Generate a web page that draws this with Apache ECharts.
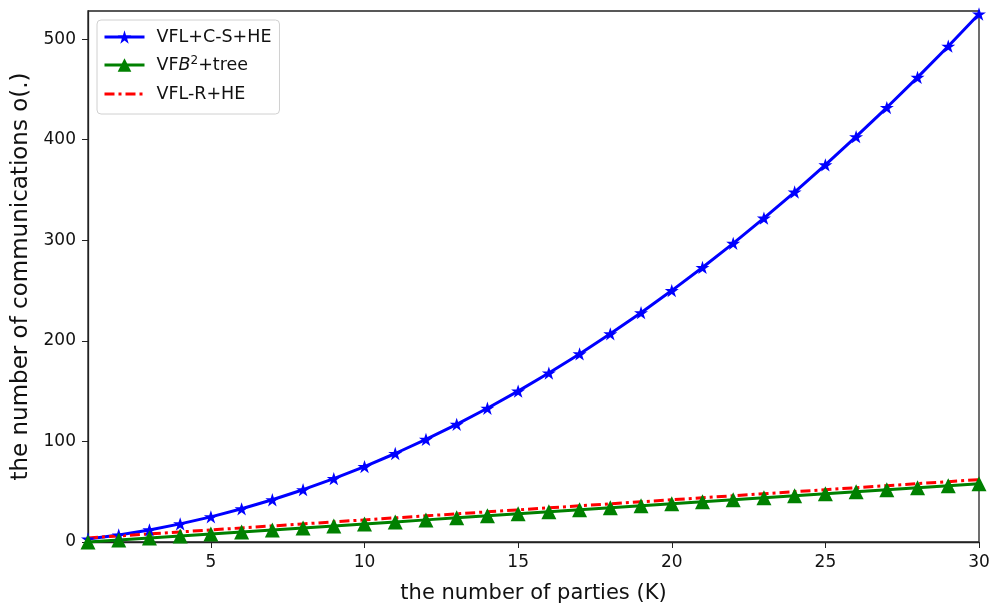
<!DOCTYPE html>
<html>
<head>
<meta charset="utf-8">
<script src="https://cdn.jsdelivr.net/npm/echarts@6/dist/echarts.min.js"></script>
<style>
  html, body { margin: 0; padding: 0; background: #fff; }
  #main { width: 1005px; height: 609px; }
</style>
</head>
<body>
<div id="main"></div>
<script>
// number of parties K
var parties = [1, 2, 3, 4, 5, 6, 7, 8, 9, 10, 11, 12, 13, 14, 15,
  16, 17, 18, 19, 20, 21, 22, 23, 24, 25, 26, 27, 28, 29, 30];
// VFL+C-S+HE
var csHE = [3, 7, 12, 18, 25, 33, 42, 52, 63, 75, 88, 102, 117, 133, 150,
  168, 187, 207, 228, 250, 273, 297, 322, 348, 375, 403, 432, 462, 493, 525];
// VFB^2+tree
var vfbTree = [0, 2, 4, 6, 8, 10, 12, 14, 16, 18, 20, 22, 24, 26, 28,
  30, 32, 34, 36, 38, 40, 42, 44, 46, 48, 50, 52, 54, 56, 58];
// VFL-R+HE
var rHE = [4, 6, 8, 10, 12, 14, 16, 18, 20, 22, 24, 26, 28, 30, 32,
  34, 36, 38, 40, 42, 44, 46, 48, 50, 52, 54, 56, 58, 60, 62];

var xTicks = [5, 10, 15, 20, 25, 30];
var yTicks = [0, 100, 200, 300, 400, 500];

function pairs(ys) {
  return parties.map(function (k, i) { return [k, ys[i]]; });
}

var star = 'path://M50,0L61.23,34.55L97.55,34.55L68.17,55.9L79.39,90.45L50,69.1L20.61,90.45L31.83,55.9L2.45,34.55L38.77,34.55Z';
var font = 'DejaVu Sans';

var myChart = echarts.init(document.getElementById('main'));
myChart.setOption({
  animation: false,
  grid: {
    left: 88, right: 26, top: 11, bottom: 65,
    show: true, borderColor: '#222', borderWidth: 1.3,
    containLabel: false
  },
  legend: {
    left: 97, top: 20,
    orient: 'vertical',
    padding: [7, 8, 10, 6],
    itemWidth: 40, itemHeight: 17, itemGap: 8,
    borderColor: '#d0d0d0', borderWidth: 1, borderRadius: 4,
    backgroundColor: 'rgba(255,255,255,0.85)',
    lineStyle: { width: 3 },
    textStyle: {
      fontFamily: font, fontSize: 17.5, color: '#111', lineHeight: 20,
      padding: [0, 0, 0, 7],
      rich: {
        i: { fontFamily: font, fontSize: 17.5, fontStyle: 'italic', color: '#111', lineHeight: 20 },
        sup: { fontFamily: font, fontSize: 12, verticalAlign: 'top', lineHeight: 20, padding: [0, 0, 9, 0], color: '#111' }
      }
    },
    formatter: function (name) {
      if (name === 'VFB2+tree') return 'VF{i|B}{sup|2}+tree';
      return name;
    },
    data: ['VFL+C-S+HE', 'VFB2+tree', { name: 'VFL-R+HE', itemStyle: { opacity: 0 } }]
  },
  xAxis: {
    type: 'value',
    min: 1, max: 30,
    name: 'the number of parties (K)',
    nameLocation: 'middle', nameGap: 41,
    nameTextStyle: { fontFamily: font, fontSize: 21, color: '#111' },
    axisLine: { show: true, lineStyle: { color: '#222', width: 1.3 } },
    axisTick: { show: true, length: 6, lineStyle: { color: '#222' },
      customValues: xTicks },
    axisLabel: { fontFamily: font, fontSize: 17, color: '#111', margin: 12,
      customValues: xTicks },
    splitLine: { show: false }
  },
  yAxis: {
    type: 'value',
    min: 0, max: 528,
    name: 'the number of communications o(.)',
    nameLocation: 'middle', nameGap: 50,
    nameTextStyle: { fontFamily: font, fontSize: 23, color: '#111' },
    axisLine: { show: true, lineStyle: { color: '#222', width: 1.3 } },
    axisTick: { show: true, length: 6, lineStyle: { color: '#222' },
      customValues: yTicks },
    axisLabel: { fontFamily: font, fontSize: 17, color: '#111', margin: 12,
      customValues: yTicks },
    splitLine: { show: false }
  },
  series: [{
    name: 'VFL+C-S+HE',
    type: 'line',
    data: pairs(csHE),
    symbol: star, symbolSize: 14, symbolKeepAspect: true,
    itemStyle: { color: '#0000ff' },
    lineStyle: { color: '#0000ff', width: 3 },
    showAllSymbol: true
  }, {
    name: 'VFB2+tree',
    type: 'line',
    data: pairs(vfbTree),
    symbol: 'triangle', symbolSize: 15,
    itemStyle: { color: '#008000' },
    lineStyle: { color: '#008000', width: 3 },
    showAllSymbol: true
  }, {
    name: 'VFL-R+HE',
    type: 'line',
    data: pairs(rHE),
    symbol: 'none',
    itemStyle: { color: '#ff0000' },
    lineStyle: { color: '#ff0000', width: 3, type: [10, 4, 3, 4] }
  }]
});
</script>
</body>
</html>
